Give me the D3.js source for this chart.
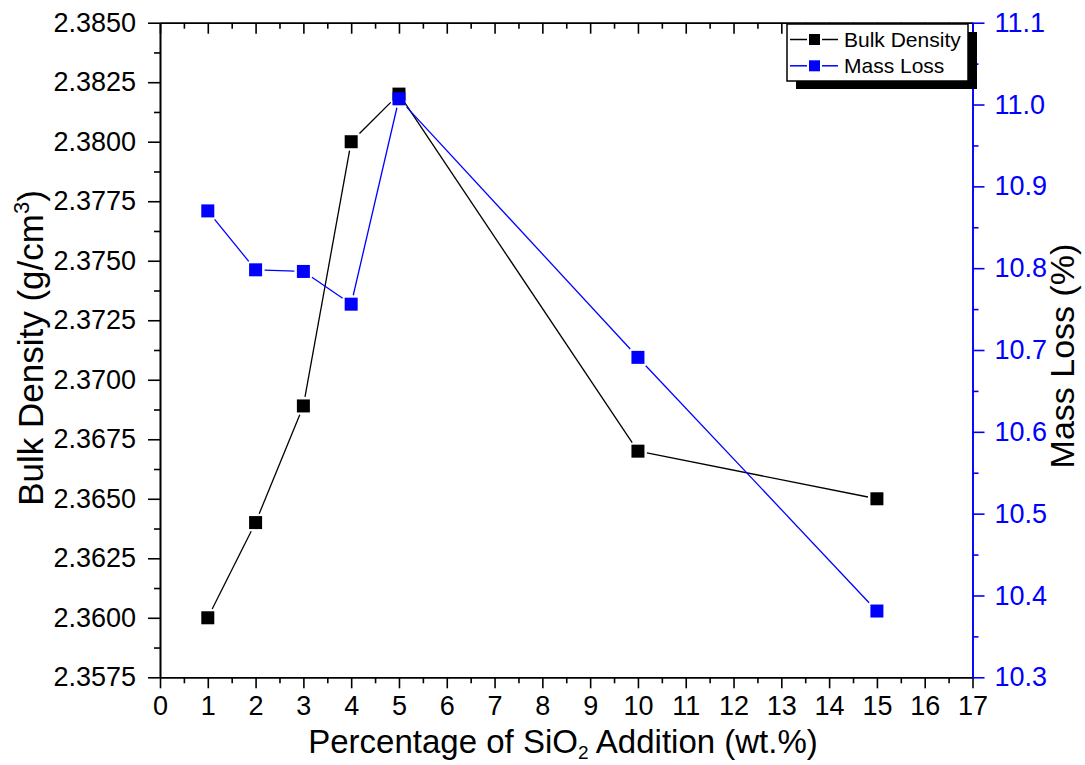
<!DOCTYPE html>
<html>
<head>
<meta charset="utf-8">
<script src="https://cdn.jsdelivr.net/npm/d3@7/dist/d3.min.js"></script>
<style>
  html, body { margin: 0; padding: 0; background: #fff; }
  svg { display: block; font-family: "Liberation Sans", Arial, sans-serif; }
</style>
</head>
<body>
<svg id="chart" width="1085" height="765"></svg>
<script>
// ---- data ----
const xValues = [1, 2, 3, 4, 5, 10, 15];
const bulkDensity = [2.3600, 2.3640, 2.3689, 2.3800, 2.3820, 2.3670, 2.3650];
const massLoss = [10.870, 10.798, 10.796, 10.756, 11.007, 10.691, 10.381];
const xTicks = d3.range(0, 18, 1);
const leftTicks = [2.3575, 2.3600, 2.3625, 2.3650, 2.3675, 2.3700, 2.3725, 2.3750, 2.3775, 2.3800, 2.3825, 2.3850];
const rightTicks = [10.3, 10.4, 10.5, 10.6, 10.7, 10.8, 10.9, 11.0, 11.1];
const seriesNames = ["Bulk Density", "Mass Loss"];

// ---- layout ----
const L = 160, R = 972.5, T = 22.7, B = 677.3;
const BLUE = "#0000ff";
const svg = d3.select("#chart");

const x = d3.scaleLinear().domain([0, 17]).range([L, R]);
const yL = d3.scaleLinear().domain([2.3575, 2.3850]).range([B, T]);
const yR = d3.scaleLinear().domain([10.3, 11.1]).range([B, T]);

function styleAxis(g, color, fontSize) {
  g.selectAll("path").attr("stroke", color).attr("stroke-width", 1.6);
  g.selectAll("line").attr("stroke", color).attr("stroke-width", 1.6);
  g.selectAll("text").attr("fill", color).attr("font-size", fontSize)
    .attr("font-family", '"Liberation Sans", Arial, sans-serif');
}

// minor ticks
const xMinor = d3.range(0.5, 17, 1);
const leftMinor = leftTicks.slice(0, -1).map(v => v + 0.00125);
const rightMinor = rightTicks.slice(0, -1).map(v => v + 0.05);

// bottom axis
const gB = svg.append("g").attr("transform", `translate(0,${B})`)
  .call(d3.axisBottom(x).tickValues(xTicks).tickFormat(d3.format("d")).tickSizeInner(11).tickSizeOuter(0).tickPadding(8));
styleAxis(gB, "#000", 27);
gB.selectAll("text").attr("dy", "0.71em");
const gBm = svg.append("g").attr("transform", `translate(0,${B})`)
  .call(d3.axisBottom(x).tickValues(xMinor).tickFormat("").tickSizeInner(6).tickSizeOuter(0));
styleAxis(gBm, "#000", 27);

// top frame (inward ticks)
const gT = svg.append("g").attr("transform", `translate(0,${T})`)
  .call(d3.axisBottom(x).tickValues(xTicks).tickFormat("").tickSizeInner(11).tickSizeOuter(0));
styleAxis(gT, "#000", 27);
const gTm = svg.append("g").attr("transform", `translate(0,${T})`)
  .call(d3.axisBottom(x).tickValues(xMinor).tickFormat("").tickSizeInner(6).tickSizeOuter(0));
styleAxis(gTm, "#000", 27);

// left axis
const gL = svg.append("g").attr("transform", `translate(${L},0)`)
  .call(d3.axisLeft(yL).tickValues(leftTicks).tickFormat(d3.format(".4f")).tickSizeInner(12).tickSizeOuter(0).tickPadding(12));
styleAxis(gL, "#000", 27);
const gLm = svg.append("g").attr("transform", `translate(${L},0)`)
  .call(d3.axisLeft(yL).tickValues(leftMinor).tickFormat("").tickSizeInner(6).tickSizeOuter(0));
styleAxis(gLm, "#000", 27);

// right axis
const gR = svg.append("g").attr("transform", `translate(${R},0)`)
  .call(d3.axisRight(yR).tickValues(rightTicks).tickFormat(d3.format(".1f")).tickSizeInner(12).tickSizeOuter(0).tickPadding(10));
styleAxis(gR, BLUE, 27);
const gRm = svg.append("g").attr("transform", `translate(${R},0)`)
  .call(d3.axisRight(yR).tickValues(rightMinor).tickFormat("").tickSizeInner(6).tickSizeOuter(0));
styleAxis(gRm, BLUE, 27);

// ---- series ----
const MS = 13; // marker size
function gappedSegments(pts, gap) {
  const segs = [];
  const h = MS / 2;
  for (let i = 0; i < pts.length - 1; i++) {
    const [x1, y1] = pts[i], [x2, y2] = pts[i + 1];
    const dx = x2 - x1, dy = y2 - y1, len = Math.hypot(dx, dy);
    const ux = dx / len, uy = dy / len;
    const d = h / Math.max(Math.abs(ux), Math.abs(uy)) + gap;
    if (len > 2 * d) segs.push([x1 + ux * d, y1 + uy * d, x2 - ux * d, y2 - uy * d]);
  }
  return segs;
}
function drawSeries(values, yScale, color) {
  const pts = xValues.map((xv, i) => [x(xv), yScale(values[i])]);
  const g = svg.append("g");
  g.selectAll("line").data(gappedSegments(pts, 2.5)).join("line")
    .attr("x1", d => d[0]).attr("y1", d => d[1]).attr("x2", d => d[2]).attr("y2", d => d[3])
    .attr("stroke", color).attr("stroke-width", 1.3);
  g.selectAll("rect").data(pts).join("rect")
    .attr("x", d => d[0] - MS / 2).attr("y", d => d[1] - MS / 2)
    .attr("width", MS).attr("height", MS).attr("fill", color);
}
drawSeries(bulkDensity, yL, "#000");
drawSeries(massLoss, yR, BLUE);

// ---- titles ----
const xt = svg.append("text").attr("x", 563).attr("y", 753).attr("text-anchor", "middle")
  .attr("font-size", 33).attr("fill", "#000");
xt.append("tspan").text("Percentage of SiO");
xt.append("tspan").attr("font-size", 19).attr("dy", 6).text("2");
xt.append("tspan").attr("dy", -6).text(" Addition (wt.%)");

const lt = svg.append("text").attr("transform", "translate(43,348) rotate(-90)")
  .attr("text-anchor", "middle").attr("font-size", 35).attr("fill", "#000");
lt.append("tspan").text("Bulk Density (g/cm");
lt.append("tspan").attr("font-size", 22).attr("dy", -14).text("3");
lt.append("tspan").attr("dy", 14).text(")");

svg.append("text").attr("transform", "translate(1074,356) rotate(-90)")
  .attr("text-anchor", "middle").attr("font-size", 34).attr("fill", "#000").text("Mass Loss (%)");

// ---- legend ----
const lg = svg.append("g");
lg.append("rect").attr("x", 796).attr("y", 32).attr("width", 181).attr("height", 57).attr("fill", "#000");
lg.append("rect").attr("x", 787).attr("y", 24).attr("width", 181).attr("height", 57)
  .attr("fill", "#fff").attr("stroke", "#000").attr("stroke-width", 1.5);
const legendColors = ["#000", BLUE];
seriesNames.forEach((name, i) => {
  const cy = 39.5 + i * 26.3;
  lg.append("line").attr("x1", 790).attr("x2", 807).attr("y1", cy).attr("y2", cy).attr("stroke", legendColors[i]).attr("stroke-width", 1.5);
  lg.append("line").attr("x1", 822).attr("x2", 838).attr("y1", cy).attr("y2", cy).attr("stroke", legendColors[i]).attr("stroke-width", 1.5);
  lg.append("rect").attr("x", 814.5 - 5.5).attr("y", cy - 5.5).attr("width", 11).attr("height", 11).attr("fill", legendColors[i]);
  lg.append("text").attr("x", 844).attr("y", cy + 7).attr("font-size", 21).attr("fill", "#000").text(name);
});
</script>
</body>
</html>
